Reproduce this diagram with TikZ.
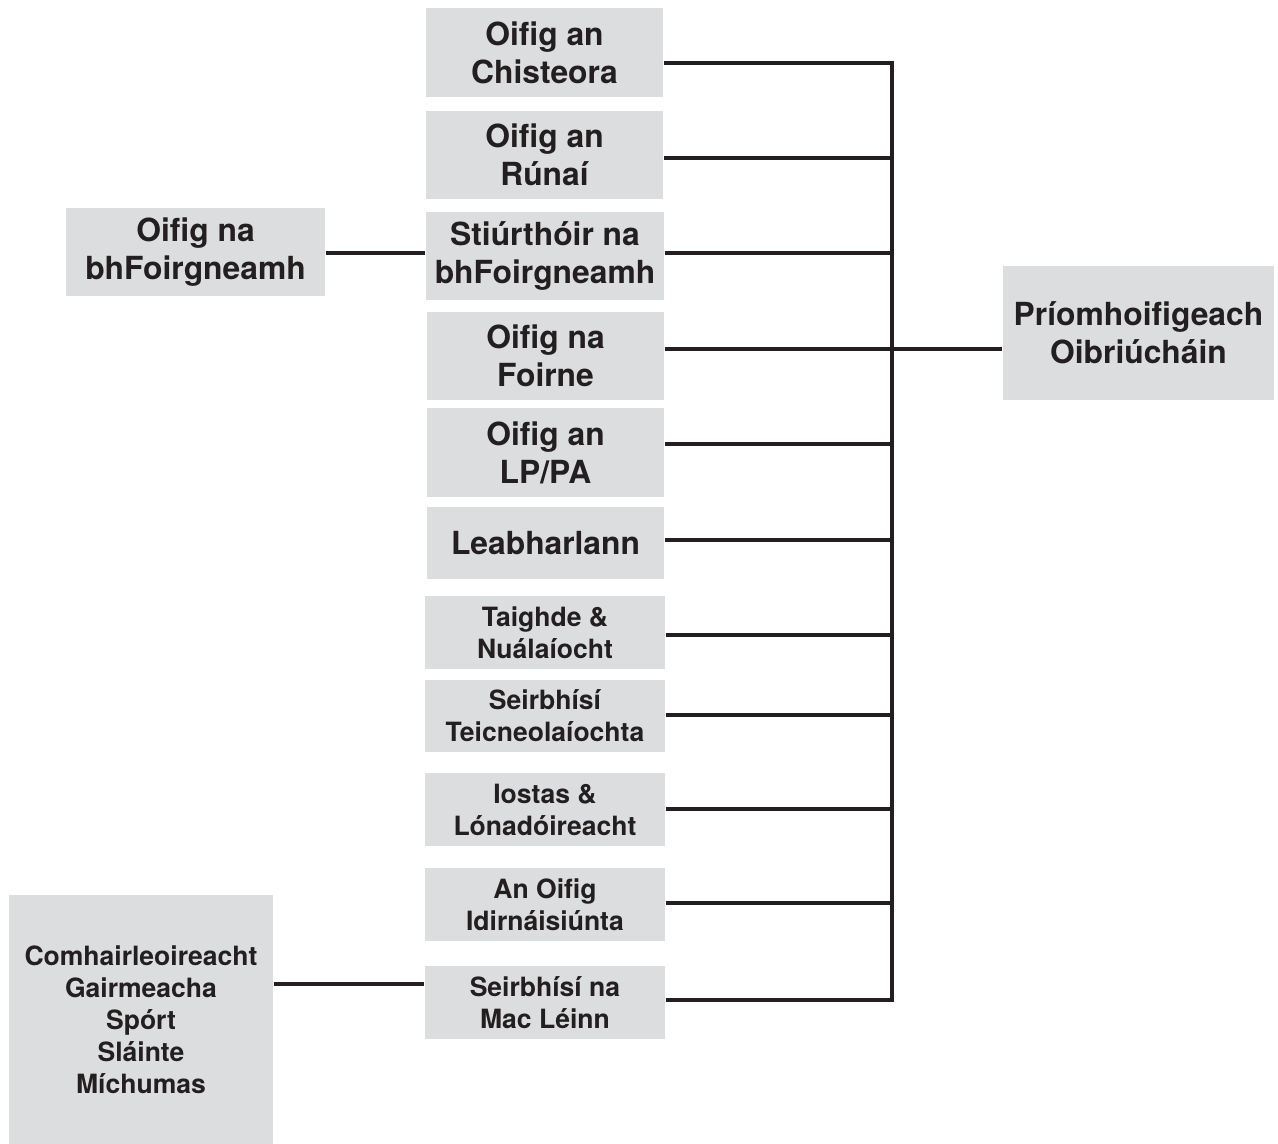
\documentclass[tikz,border=0pt]{standalone}
\usepackage{fontspec}
\setmainfont{TeX Gyre Heros}
\definecolor{boxgray}{HTML}{DCDDDE}
\definecolor{ink}{HTML}{231F20}
\tikzset{
  unit/.style={fill=boxgray, text=ink, inner sep=0pt, align=center,
    font=\bfseries\fontsize{9.05}{10.8}\selectfont},
  smallunit/.style={unit, font=\bfseries\fontsize{7.55}{9.1}\selectfont},
  link/.style={draw=ink, line width=0.9pt}
}
\begin{document}
\begin{tikzpicture}
\useasboundingbox (0,0) rectangle (12.78,-11.44);
% column of offices
\node[unit, minimum width=2.37cm, minimum height=0.89cm] (chisteora) at (5.445,-0.525) {Oifig an\\Chisteora};
\node[unit, minimum width=2.37cm, minimum height=0.88cm] (runai) at (5.445,-1.55) {Oifig an\\Rúnaí};
\node[unit, minimum width=2.38cm, minimum height=0.88cm] (stiurthoir) at (5.45,-2.56) {Stiúrthóir na\\bhFoirgneamh};
\node[unit, minimum width=2.37cm, minimum height=0.88cm] (foirne) at (5.455,-3.56) {Oifig na\\Foirne};
\node[unit, minimum width=2.37cm, minimum height=0.89cm] (lppa) at (5.455,-4.525) {Oifig an\\LP/PA};
\node[unit, minimum width=2.37cm, minimum height=0.72cm] (leabharlann) at (5.455,-5.43) {Leabharlann};
\node[smallunit, minimum width=2.4cm, minimum height=0.73cm] (taighde) at (5.45,-6.325) {Taighde \&\\Nuálaíocht};
\node[smallunit, minimum width=2.4cm, minimum height=0.72cm] (teic) at (5.45,-7.16) {Seirbhísí\\Teicneolaíochta};
\node[smallunit, minimum width=2.4cm, minimum height=0.73cm] (iostas) at (5.45,-8.095) {Iostas \&\\Lónadóireacht};
\node[smallunit, minimum width=2.4cm, minimum height=0.73cm] (idirn) at (5.45,-9.045) {An Oifig\\Idirnáisiúnta};
\node[smallunit, minimum width=2.4cm, minimum height=0.73cm] (macleinn) at (5.45,-10.025) {Seirbhísí na\\Mac Léinn};
% side boxes
\node[unit, minimum width=2.59cm, minimum height=0.88cm] (foirgneamh) at (1.955,-2.52) {Oifig na\\bhFoirgneamh};
\node[smallunit, minimum width=2.64cm, minimum height=2.49cm] (comhairle) at (1.41,-10.195) {Comhairleoireacht\\Gairmeacha\\Spórt\\Sláinte\\Míchumas};
\node[unit, minimum width=2.71cm, minimum height=1.34cm] (priomh) at (11.385,-3.33) {Príomhoifigeach\\Oibriúcháin};
% bus
\coordinate (bustop) at (8.92,-0.63);
\coordinate (bus2) at (8.92,-1.58);
\coordinate (bus3) at (8.92,-2.53);
\coordinate (bus4) at (8.92,-3.49);
\coordinate (bus5) at (8.92,-4.44);
\coordinate (bus6) at (8.92,-5.40);
\coordinate (bus7) at (8.92,-6.35);
\coordinate (bus8) at (8.92,-7.15);
\coordinate (bus9) at (8.92,-8.09);
\coordinate (bus10) at (8.92,-9.03);
\coordinate (busend) at (8.92,-10.00);
\draw[link] (chisteora.east |- bustop) -- (bustop) -- (busend) -- (macleinn.east |- busend);
\draw[link] (runai.east |- bus2) -- (bus2);
\draw[link] (stiurthoir.east |- bus3) -- (bus3);
\draw[link] (foirne.east |- bus4) -- (priomh.west |- bus4);
\draw[link] (lppa.east |- bus5) -- (bus5);
\draw[link] (leabharlann.east |- bus6) -- (bus6);
\draw[link] (taighde.east |- bus7) -- (bus7);
\draw[link] (teic.east |- bus8) -- (bus8);
\draw[link] (iostas.east |- bus9) -- (bus9);
\draw[link] (idirn.east |- bus10) -- (bus10);
\draw[link] (foirgneamh.east |- bus3) -- (stiurthoir.west |- bus3);
\draw[link] (comhairle.east |- 0,-9.84) -- (macleinn.west |- 0,-9.84);
\end{tikzpicture}
\end{document}
